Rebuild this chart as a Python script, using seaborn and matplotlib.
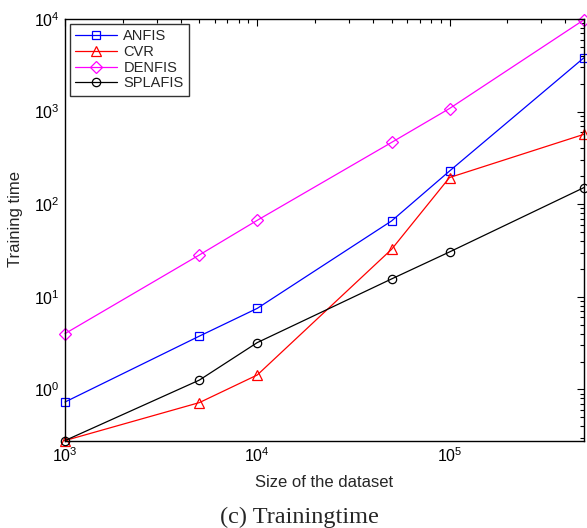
import numpy as np
import pandas as pd
import matplotlib
matplotlib.use('Agg')
import matplotlib.pyplot as plt
from matplotlib.ticker import LogLocator, NullFormatter
import seaborn as sns

# ----------------------- Data -------------------------------------------
sizes = [1e3, 5e3, 1e4, 5e4, 1e5, 5e5]
anfis = [0.73, 3.76, 7.5, 66, 228, 3810]
cvr = [0.28, 0.72, 1.43, 32.6, 194, 568]
denfis = [4.0, 28.3, 67, 465, 1080, 9800]
splafis = [0.28, 1.26, 3.2, 15.6, 30.5, 151]

series = {'ANFIS': anfis, 'CVR': cvr, 'DENFIS': denfis, 'SPLAFIS': splafis}
colors = {'ANFIS': '#0000ff', 'CVR': '#ff0000', 'DENFIS': '#ff00ff', 'SPLAFIS': '#000000'}
markers = {'ANFIS': 's', 'CVR': '^', 'DENFIS': 'D', 'SPLAFIS': 'o'}
msizes = {'ANFIS': 5.2, 'CVR': 6.5, 'DENFIS': 6.0, 'SPLAFIS': 6.0}

df = pd.DataFrame([(k, x, y) for k, v in series.items() for x, y in zip(sizes, v)],
                  columns=['method', 'size', 'time'])

# ----------------------- Plot -------------------------------------------
sns.set_theme(style='white')
plt.rcParams['font.family'] = ['Liberation Sans', 'DejaVu Sans']
plt.rcParams['mathtext.default'] = 'regular'

fig = plt.figure(figsize=(5.87, 5.28), dpi=100)
ax = fig.add_axes([0.1107, 0.1653, 0.884, 0.7987])

for name in series:
    sub = df[df['method'] == name]
    sns.lineplot(data=sub, x='size', y='time', ax=ax, label=name,
                 color=colors[name], marker=markers[name], markersize=msizes[name],
                 markerfacecolor='none', markeredgecolor=colors[name],
                 markeredgewidth=0.9, linewidth=0.9, clip_on=False)

ax.set_xscale('log')
ax.set_yscale('log')
ax.set_xlim(1e3, 5e5)
ax.set_ylim(0.279, 1e4)
for axis in (ax.xaxis, ax.yaxis):
    axis.set_minor_locator(LogLocator(base=10, subs=np.arange(2, 10), numticks=20))
    axis.set_minor_formatter(NullFormatter())

ax.tick_params(which='both', direction='in', top=True, right=True,
               labelsize=11.5, colors='black', width=0.8)
ax.tick_params(which='major', length=5, pad=4)
ax.tick_params(which='minor', length=3)
for s in ax.spines.values():
    s.set_color('black')
    s.set_linewidth(1.0)

ax.set_xlabel('Size of the dataset', fontsize=12, labelpad=7)
ax.set_ylabel('Training time', fontsize=12)
ax.yaxis.set_label_coords(-0.08, 0.526)

leg = ax.legend(loc='upper left', fontsize=10.5, frameon=True, fancybox=False,
                edgecolor='black', borderpad=0.35, labelspacing=0.12,
                handlelength=2.9, handletextpad=0.4, borderaxespad=0.35)
leg.get_frame().set_linewidth(1.0)

fig.text(0.51, 0.02, '(c) Trainingtime', ha='center', va='center',
         fontsize=17.5, family=['Liberation Serif', 'DejaVu Serif'])

fig.savefig('out.png', dpi=100)
